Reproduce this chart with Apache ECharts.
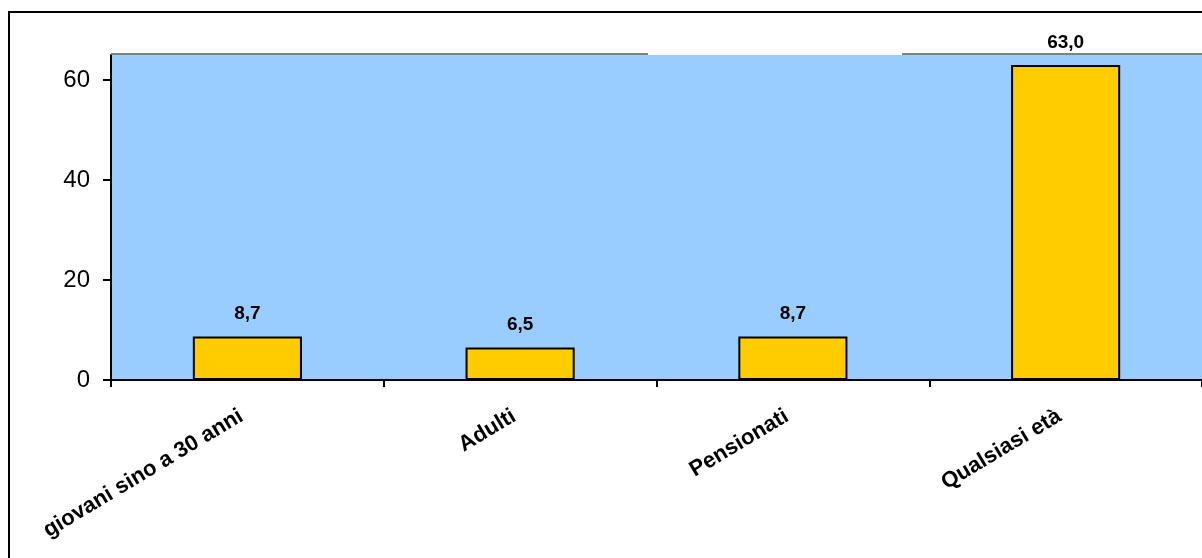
<!DOCTYPE html>
<html>
<head>
<meta charset="utf-8">
<script src="https://cdn.jsdelivr.net/npm/echarts@6/dist/echarts.min.js"></script>
<style>
html,body{margin:0;padding:0;background:#fff;}
#c{width:1202px;height:558px;}
</style>
</head>
<body>
<div id="c"></div>
<script>
const categories = ['giovani sino a 30 anni', 'Adulti', 'Pensionati', 'Qualsiasi età'];
const values = [8.7, 6.5, 8.7, 63.0];
const yTicks = [0, 20, 40, 60];

const FONT = 'Arial, "Liberation Sans", sans-serif';
const chart = echarts.init(document.getElementById('c'), null, {renderer: 'canvas'});
chart.setOption({
  animation: false,
  backgroundColor: '#ffffff',
  grid: {
    left: 111, top: 55, right: -5, bottom: 178,
    show: true, backgroundColor: '#99CCFF', borderWidth: 0
  },
  graphic: [
    {type: 'rect', z: 0, silent: true,
     shape: {x: 9, y: 12, width: 1220, height: 580},
     style: {fill: 'none', stroke: '#000', lineWidth: 2}},
    {type: 'line', z: 10, silent: true,
     shape: {x1: 111, y1: 54, x2: 648, y2: 54},
     style: {stroke: '#808080', lineWidth: 2}},
    {type: 'line', z: 10, silent: true,
     shape: {x1: 902, y1: 54, x2: 1210, y2: 54},
     style: {stroke: '#808080', lineWidth: 2}}
  ],
  xAxis: {
    type: 'category',
    data: categories,
    boundaryGap: true,
    axisLine: {lineStyle: {color: '#000', width: 2}},
    axisTick: {show: true, length: 7, inside: false, alignWithLabel: false,
               lineStyle: {color: '#000', width: 2}},
    axisLabel: {rotate: 31, margin: 31, padding: [0, 7, 0, 0], color: '#000', fontFamily: FONT,
                fontWeight: 'bold', fontSize: 22, interval: 0}
  },
  yAxis: {
    type: 'value',
    min: 0, max: 65, interval: 20,
    axisLine: {show: true, lineStyle: {color: '#000', width: 2}},
    axisTick: {show: true, length: 8, lineStyle: {color: '#000', width: 2},
               customValues: yTicks},
    axisLabel: {color: '#000', fontFamily: FONT, fontSize: 24, margin: 21,
                customValues: yTicks},
    splitLine: {show: false}
  },
  series: [{
    type: 'bar',
    data: values,
    barWidth: '40%',
    itemStyle: {color: '#FFCC00', borderColor: '#000', borderWidth: 2},
    label: {
      show: true, position: 'top', distance: 13,
      color: '#000', fontFamily: FONT, fontWeight: 'bold', fontSize: 19,
      formatter: p => p.value.toFixed(1).replace('.', ',')
    }
  }]
});
</script>
</body>
</html>
